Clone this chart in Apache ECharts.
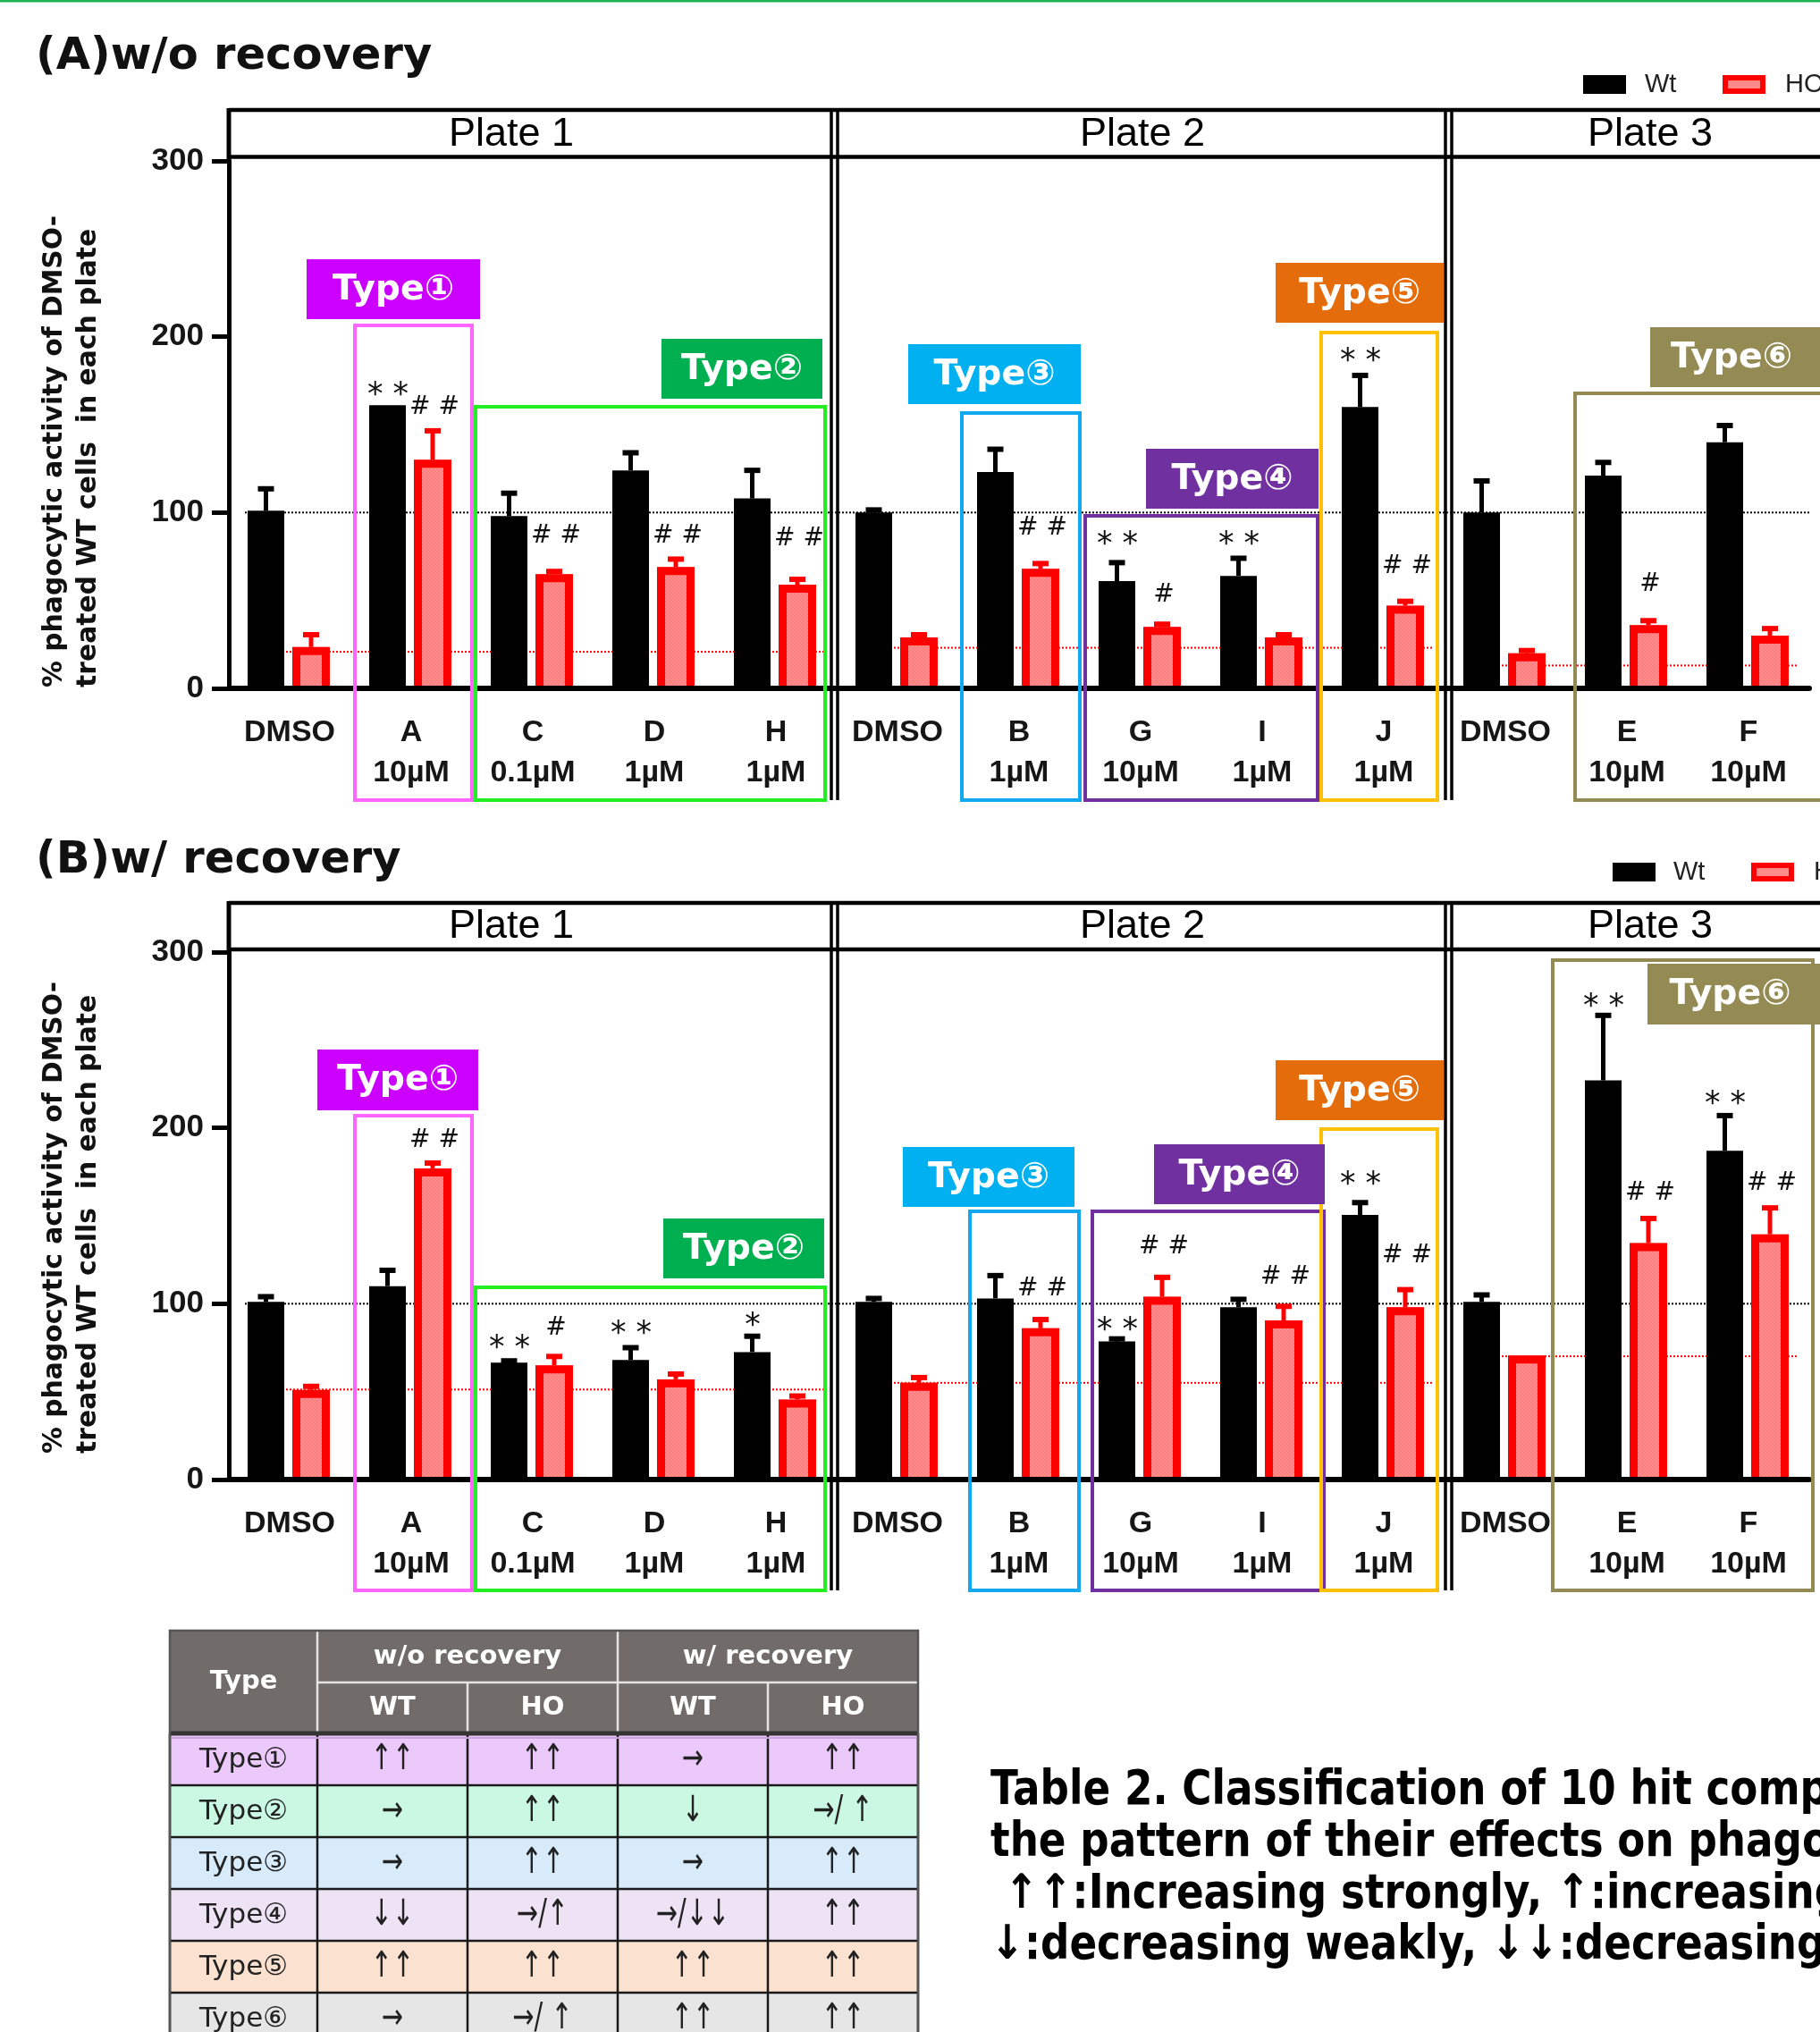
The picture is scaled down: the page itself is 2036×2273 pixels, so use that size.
<!DOCTYPE html>
<html>
<head>
<meta charset="utf-8">
<title>Phagocytic activity</title>
<script src="https://cdn.jsdelivr.net/npm/echarts@6.0.0/dist/echarts.min.js"></script>
<style>
html,body{margin:0;padding:0;background:#fff;}
#chart{width:2036px;height:2273px;}
</style>
</head>
<body>
<div id="chart"></div>
<script>
// ================= DATA =================
const categories = ['DMSO','A\n10\u00b5M','C\n0.1\u00b5M','D\n1\u00b5M','H\n1\u00b5M',
                    'DMSO','B\n1\u00b5M','G\n10\u00b5M','I\n1\u00b5M','J\n1\u00b5M',
                    'DMSO','E\n10\u00b5M','F\n10\u00b5M'];
const plateNames = ['Plate 1','Plate 2','Plate 3'];
const yMin = 0, yMax = 300, yInterval = 100;
const seriesNames = ['Wt','HO'];
const panelTitles = ['(A)w/o recovery','(B)w/ recovery'];
const yAxisNameLines = ['% phagocytic activity of DMSO-','treated WT cells  in each plate'];

// (A) w/o recovery
const wtA    = [101, 161, 98, 124, 108, 100, 123, 61, 64, 160, 100, 121, 140];
const wtErrA = [12.5, 0, 13, 10, 16, 1.5, 13, 10.5, 10, 18, 18, 7.5, 9.5];
const hoA    = [23.5, 130, 65, 69, 59, 29, 68, 35, 29, 47, 20, 36, 30];
const hoErrA = [7, 16.5, 1.5, 4.5, 3, 1.5, 3, 1.5, 1.5, 2.5, 1.5, 2.5, 4];
// (B) w/ recovery
const wtB    = [101, 110, 66.5, 68, 72.5, 101, 103, 78.5, 98, 150.5, 101, 227, 187];
const wtErrB = [3, 9, 1, 7, 9, 2, 13, 1.5, 4.5, 7, 4, 37, 20];
const hoB    = [51, 177, 65, 57, 45.5, 55, 86, 104, 90.5, 98, 70.5, 134.5, 139.5];
const hoErrB = [2, 3, 5, 3, 2, 3, 5, 11, 8, 10, 0, 14, 15];

// reference levels: [first category, last category, value]
const refWt = 100;
const refHoA = [[0, 4, 20.8], [5, 9, 23.1], [10, 12, 13.0]];
const refHoB = [[0, 4, 51.2], [5, 9, 55.0], [10, 12, 70.1]];

// significance marks: [category, bar, text, label level]
const sigA = [[1,'W','**',171.4],[1,'H','##',159.7],[2,'H','##',86.4],[3,'H','##',86.4],
              [4,'H','##',84.9],[6,'H','##',91.0],[7,'W','**',86.4],[7,'H','#',52.9],
              [8,'W','**',86.4],[9,'W','**',190.7],[9,'H','##',69.2],[11,'H','#',59.0]];
const sigB = [[1,'H','##',192.7],[2,'W','**',79.3],[2,'H','#',85.9],[3,'W','**',87.5],
              [4,'W','*',92.0],[6,'H','##',108.3],[7,'W','**',89.5],[7,'H','##',132.2],
              [8,'H','##',114.9],[9,'W','**',172.4],[9,'H','##',127.1],[11,'W','**',273.6],
              [11,'H','##',162.7],[12,'W','**',218.1],[12,'H','##',168.3]];

const typeNames = ['Type\u2460','Type\u2461','Type\u2462','Type\u2463','Type\u2464','Type\u2465'];
const tableHead = ['Type','w/o recovery','w/ recovery','WT','HO'];
const tableRows = [
  ['\u2191\u2191','\u2191\u2191','\u2192','\u2191\u2191'],
  ['\u2192','\u2191\u2191','\u2193','\u2192/ \u2191'],
  ['\u2192','\u2191\u2191','\u2192','\u2191\u2191'],
  ['\u2193\u2193','\u2192/\u2191','\u2192/\u2193\u2193','\u2191\u2191'],
  ['\u2191\u2191','\u2191\u2191','\u2191\u2191','\u2191\u2191'],
  ['\u2192','\u2192/ \u2191','\u2191\u2191','\u2191\u2191']
];
const captionLines = [
  'Table 2. Classification of 10 hit compounds based on',
  'the pattern of their effects on phagocytosis.',
  ' \u2191\u2191:Increasing strongly, \u2191:increasing weakly, \u2192:no change,',
  '\u2193:decreasing weakly, \u2193\u2193:decreasing strongly'
];

// ================= LAYOUT / STYLE =================
const W = 2036, H = 2273;
const panels = [
  {gridTop:180, gridH:590, frameTop:123, header:175.5, boxBottom:895, title:64, legend:{bx:1771, by:84, tx:1840, rx:1927, hx:1997}, yNameBottom:769},
  {gridTop:1065, gridH:590, frameTop:1010, header:1062, boxBottom:1779, title:963, legend:{bx:1804, by:965, tx:1872, rx:1959, hx:2029}, yNameBottom:1626}
];
const gridLeft = 256, gridW = 1768;
const dividerX = [930, 937, 1617, 1624];
const plateLabelX = [572, 1278, 1846];
const typeColors = ['#cc00ff','#00b050','#00b0f0','#7030a0','#e46c0a','#948a54'];
const outlineColors = ['#ff66ff','#22ee22','#12a8ef','#7030a0','#ffc000','#948a54'];
const boxes = [
  [ // panel A: label [x,y,w,h], outline [x,y,w,h]
    {lab:[343,290,194,67], out:[397,364,131,531]},
    {lab:[740,379,180,67], out:[532,455,391,440]},
    {lab:[1016,385,193,67], out:[1076,462,132,433]},
    {lab:[1282,502,193,67], out:[1214,577,260,318]},
    {lab:[1427,294,188,67], out:[1478,372,130,523]},
    {lab:[1846,366,200,67], out:[1762,440,290,455]}
  ],
  [ // panel B
    {lab:[355,1174,180,68], out:[397,1248,131,531]},
    {lab:[742,1363,180,67], out:[532,1440,391,339]},
    {lab:[1010,1283,192,67], out:[1085,1355,122,424]},
    {lab:[1291,1280,191,67], out:[1222,1355,259,424]},
    {lab:[1427,1186,188,67], out:[1478,1263,130,516]},
    {lab:[1843,1078,200,68], out:[1737,1074,291,705]}
  ]
];
const tableX = [190, 355, 523, 691, 859, 1027];
const tableY0 = 1824, headH1 = 58, headH2 = 57, rowH = 58;
const rowColors = ['#ecc9fb','#cbf8e2','#d7ebfb','#eee2f5','#fbe1cf','#e6e6e6'];
const captionX = 1108, captionY = [2004, 2062, 2120, 2177];

// ---------- font fitting ----------
const mctx = document.createElement('canvas').getContext('2d');
function textW(text, font) { mctx.font = font; return mctx.measureText(text).width; }
function fit(text, weight, family, target) { return 100 * target / textW(text, weight + ' 100px ' + family); }
const VER = '"DejaVu Sans"';
const ARIAL = '"Liberation Sans", Arial, sans-serif';
const titleSize = fit(panelTitles[0], 'bold', VER, 443);
const yNameSize = fit(yAxisNameLines[0], 'bold', VER, 529);
const typeSize = Math.min(fit('Type\u2460', 'bold', VER, 136), 42);
const capFont = 'bold 53px ' + VER;
const capScale = 938 / textW('Table 2. Classification of 10 hit comp', capFont);

// pink hatch fill for HO bars
const pc = document.createElement('canvas'); pc.width = 4; pc.height = 4;
(function(){ const c = pc.getContext('2d'); c.fillStyle = '#ff8f8f'; c.fillRect(0,0,4,4);
  c.fillStyle = '#ff7c7c'; c.fillRect(0,0,2,2); c.fillRect(2,2,2,2); })();
const hoFill = {image: pc, repeat: 'repeat'};

// ================= RENDERERS =================
function barWt(params, api) {
  const i = api.value(0), v = api.value(1);
  const p = api.coord([i, v]), b = api.coord([i, 0]);
  return {type:'rect', shape:{x:p[0]-47, y:p[1], width:41, height:b[1]-p[1]}, style:{fill:'#000'}};
}
function barHo(params, api) {
  const i = api.value(0), v = api.value(1);
  const p = api.coord([i, v]), b = api.coord([i, 0]);
  const x0 = p[0]+3, x1 = p[0]+45, bw = 9;
  return {type:'group', children:[
    {type:'rect', shape:{x:x0, y:p[1], width:x1-x0, height:b[1]-p[1]}, style:{fill:hoFill}},
    {type:'polyline', shape:{points:[[x0+bw/2,b[1]],[x0+bw/2,p[1]+bw/2],[x1-bw/2,p[1]+bw/2],[x1-bw/2,b[1]]]},
     style:{stroke:'#ff0000', lineWidth:bw, fill:'none', lineJoin:'miter'}}
  ]};
}
function errBar(dx, color) {
  return function(params, api) {
    const i = api.value(0), v = api.value(1), e = api.value(2);
    if (!e) return null;
    const p = api.coord([i, v]), q = api.coord([i, v + e]);
    const x = p[0] + dx;
    return {type:'group', children:[
      {type:'line', shape:{x1:x, y1:p[1], x2:x, y2:q[1]}, style:{stroke:color, lineWidth:5}},
      {type:'line', shape:{x1:x-9, y1:q[1], x2:x+9, y2:q[1]}, style:{stroke:color, lineWidth:6}}
    ]};
  };
}
function refLine(color, dxs, dxe) {
  return function(params, api) {
    const s = api.value(0), e = api.value(1), v = api.value(2);
    const p1 = api.coord([s, v]), p2 = api.coord([e, v]);
    return {type:'line', shape:{x1:p1[0]+dxs, y1:p1[1], x2:p2[0]+dxe, y2:p1[1]},
            style:{stroke:color, lineWidth:2, lineDash:[2,2]}};
  };
}
function sigMark(list) {
  return function(params, api) {
    const it = list[params.dataIndex];
    const p = api.coord([api.value(0), api.value(1)]);
    const star = it[2].indexOf('*') >= 0;
    const dx = it[1] === 'W' ? -26 : 26;
    return {type:'text', x:p[0]+dx, y:p[1] + (star ? 10 : 0),
      style:{text:it[2].split('').join(' '), font:(star ? '35px ' : '28px ') + VER, fill:'#111',
             align:'center', verticalAlign:'middle', textAlign:'center', textVerticalAlign:'middle'}};
  };
}

// ================= OPTION =================
const grids = [], xAxes = [], yAxes = [], series = [];
const panelData = [
  {wt:wtA, wtErr:wtErrA, ho:hoA, hoErr:hoErrA, ref:refHoA, sig:sigA},
  {wt:wtB, wtErr:wtErrB, ho:hoB, hoErr:hoErrB, ref:refHoB, sig:sigB}
];
panels.forEach(function(pn, k) {
  grids.push({left:gridLeft, top:pn.gridTop, width:gridW, height:pn.gridH, containLabel:false});
  xAxes.push({type:'category', gridIndex:k, data:categories, boundaryGap:true, z:10,
    axisLine:{lineStyle:{color:'#000', width:6}},
    axisTick:{alignWithLabel:true, length:18, lineStyle:{color:'#000', width:5}},
    axisLabel:{interval:0, margin:27, fontSize:34, fontWeight:'bold', fontFamily:ARIAL, color:'#161616', lineHeight:45}
  });
  yAxes.push({type:'value', gridIndex:k, min:yMin, max:yMax, interval:yInterval, z:10,
    axisLine:{show:true, lineStyle:{color:'#000', width:5}},
    axisTick:{show:true, length:19, lineStyle:{color:'#000', width:5}},
    axisLabel:{margin:28, fontSize:35, fontWeight:'bold', fontFamily:ARIAL, color:'#161616'},
    splitLine:{show:false}
  });
  const d = panelData[k];
  const base = {type:'custom', coordinateSystem:'cartesian2d', xAxisIndex:k, yAxisIndex:k, silent:true, animation:false, clip:false};
  series.push(Object.assign({}, base, {name:'ref100', z:1, renderItem:refLine('#000', -50, 68), data:[[0, categories.length-1, refWt]], encode:{x:0, y:2}}));
  series.push(Object.assign({}, base, {name:'refHO', z:1, renderItem:refLine('#ff0000', -12, 55), data:d.ref, encode:{x:0, y:2}}));
  series.push(Object.assign({}, base, {name:seriesNames[0], z:2, renderItem:barWt, data:d.wt.map(function(v,i){return [i,v];}), encode:{x:0,y:1}}));
  series.push(Object.assign({}, base, {name:seriesNames[1], z:2, renderItem:barHo, data:d.ho.map(function(v,i){return [i,v];}), encode:{x:0,y:1}}));
  series.push(Object.assign({}, base, {name:'errWt', z:3, renderItem:errBar(-26.5, '#000'), data:d.wt.map(function(v,i){return [i,v,d.wtErr[i]];}), encode:{x:0,y:1}}));
  series.push(Object.assign({}, base, {name:'errHo', z:3, renderItem:errBar(24, '#ff0000'), data:d.ho.map(function(v,i){return [i,v,d.hoErr[i]];}), encode:{x:0,y:1}}));
  series.push(Object.assign({}, base, {name:'sig', z:4, renderItem:sigMark(d.sig), data:d.sig.map(function(s){return [s[0], s[3]];}), encode:{x:0,y:1}}));
});

// ================= GRAPHICS =================
const G = [];
function gLine(x1,y1,x2,y2,color,w){ G.push({type:'line', silent:true, z:20, shape:{x1:x1,y1:y1,x2:x2,y2:y2}, style:{stroke:color, lineWidth:w}}); }
function gRect(x,y,w,h,fill,stroke,lw,z){ G.push({type:'rect', silent:true, z:z||20, shape:{x:x,y:y,width:w,height:h}, style:{fill:fill||'none', stroke:stroke||'none', lineWidth:lw||0}}); }
function gText(x,y,t,font,fill,align,valign,rot,z,sx){ G.push({type:'text', silent:true, z:z||21, x:x, y:y, rotation:rot||0, scaleX:sx||1,
  style:{text:t, font:font, fill:fill, align:align, verticalAlign:valign, textAlign:align, textVerticalAlign:valign}}); }

gRect(0, 0, W, 2.5, '#1db356', null, 0, 5);

panels.forEach(function(pn, k) {
  gText(40, pn.title, panelTitles[k], 'bold ' + titleSize.toFixed(1) + 'px ' + VER, '#111', 'left', 'middle');
  // legend
  const L = pn.legend;
  gRect(L.bx, L.by, 48, 21, '#000');
  gText(L.tx, L.by + 11, seriesNames[0], '29px ' + ARIAL, '#222', 'left', 'middle');
  gRect(L.rx + 3, L.by + 3, 42, 15, '#ff8a8a', '#ff0000', 6);
  gText(L.hx, L.by + 11, seriesNames[1], '29px ' + ARIAL, '#222', 'left', 'middle');
  // frame
  gLine(gridLeft, pn.frameTop, W + 10, pn.frameTop, '#000', 4.5);
  gLine(gridLeft, pn.header, W + 10, pn.header, '#000', 4.5);
  gLine(gridLeft, pn.frameTop - 2, gridLeft, pn.gridTop + 2, '#000', 5);
  dividerX.forEach(function(x){ gLine(x, pn.frameTop, x, pn.boxBottom, '#000', 3.5); });
  plateNames.forEach(function(nm, j){ gText(plateLabelX[j], (pn.frameTop + pn.header)/2 + 1, nm, '45px ' + ARIAL, '#000', 'center', 'middle'); });
  // y axis name
  gText(61, pn.yNameBottom, yAxisNameLines[0], 'bold ' + yNameSize.toFixed(1) + 'px ' + VER, '#111', 'left', 'middle', Math.PI/2);
  gText(99, pn.yNameBottom, yAxisNameLines[1], 'bold ' + yNameSize.toFixed(1) + 'px ' + VER, '#111', 'left', 'middle', Math.PI/2);
  // type boxes
  boxes[k].forEach(function(b, j){
    gRect(b.out[0], b.out[1], b.out[2], b.out[3], null, outlineColors[j], 4, 20);
  });
  boxes[k].forEach(function(b, j){
    gRect(b.lab[0], b.lab[1], b.lab[2], b.lab[3], typeColors[j], null, 0, 22);
    const cx = b.lab[0] + Math.min(b.lab[2], W - b.lab[0] - 8) / 2;
    gText(cx, b.lab[1] + b.lab[3]/2 + 1, typeNames[j], 'bold ' + typeSize.toFixed(1) + 'px ' + VER, '#fff', 'center', 'middle', 0, 23);
  });
});

// ---------- table ----------
(function(){
  const x0 = tableX[0], x5 = tableX[5];
  const yH2 = tableY0 + headH1, yD = yH2 + headH2;
  gRect(x0, tableY0, x5 - x0, headH1 + headH2, '#716b6a', null, 0, 20);
  tableRows.forEach(function(r, i){ gRect(x0, yD + i*rowH, x5 - x0, rowH, rowColors[i], null, 0, 20); });
  // header separators (light)
  gLine(tableX[1], tableY0, tableX[1], yD, '#e4e4e4', 2.5);
  gLine(tableX[3], tableY0, tableX[3], yD, '#e4e4e4', 2.5);
  gLine(tableX[2], yH2, tableX[2], yD, '#e4e4e4', 2.5);
  gLine(tableX[4], yH2, tableX[4], yD, '#e4e4e4', 2.5);
  gLine(tableX[1], yH2, x5, yH2, '#e4e4e4', 2.5);
  // data grid lines
  for (let c = 0; c < tableX.length; c++) gLine(tableX[c], yD, tableX[c], H + 10, '#1a1a1a', 2.5);
  for (let i = 1; i < tableRows.length; i++) gLine(x0, yD + i*rowH, x5, yD + i*rowH, '#1a1a1a', 2.5);
  gLine(x0, yD + 5, x5, yD + 5, '#c9a3dc', 2);
  gLine(x0, yD, x5, yD, '#333', 5);
  gRect(x0, tableY0, x5 - x0, H + 10 - tableY0, null, '#555', 2.5, 21);
  // header text
  const hf = 'bold 29px ' + VER;
  gText((x0 + tableX[1])/2, tableY0 + (headH1 + headH2)/2, tableHead[0], hf, '#fff', 'center', 'middle');
  gText((tableX[1] + tableX[3])/2, tableY0 + headH1/2, tableHead[1], hf, '#fff', 'center', 'middle');
  gText((tableX[3] + x5)/2, tableY0 + headH1/2, tableHead[2], hf, '#fff', 'center', 'middle');
  for (let c = 1; c <= 4; c++) gText((tableX[c] + tableX[c+1])/2, yH2 + headH2/2, tableHead[c % 2 === 1 ? 3 : 4], hf, '#fff', 'center', 'middle');
  // data text
  tableRows.forEach(function(r, i){
    const cy = yD + i*rowH + rowH/2 + 1;
    gText((x0 + tableX[1])/2, cy, typeNames[i], '31px ' + VER, '#222', 'center', 'middle');
    r.forEach(function(t, c){ gText((tableX[c+1] + tableX[c+2])/2, cy, t, '40px ' + VER, '#222', 'center', 'middle', 0, 21, 0.72); });
  });
})();

// ---------- caption ----------
captionLines.forEach(function(t, i){
  gText(captionX, captionY[i], t, capFont, '#000', 'left', 'middle', 0, 21, capScale);
});

const chart = echarts.init(document.getElementById('chart'), null, {renderer:'canvas', width:W, height:H});
chart.setOption({
  animation:false,
  backgroundColor:'#ffffff',
  grid:grids, xAxis:xAxes, yAxis:yAxes, series:series,
  graphic:{elements:G}
});
</script>
</body>
</html>
